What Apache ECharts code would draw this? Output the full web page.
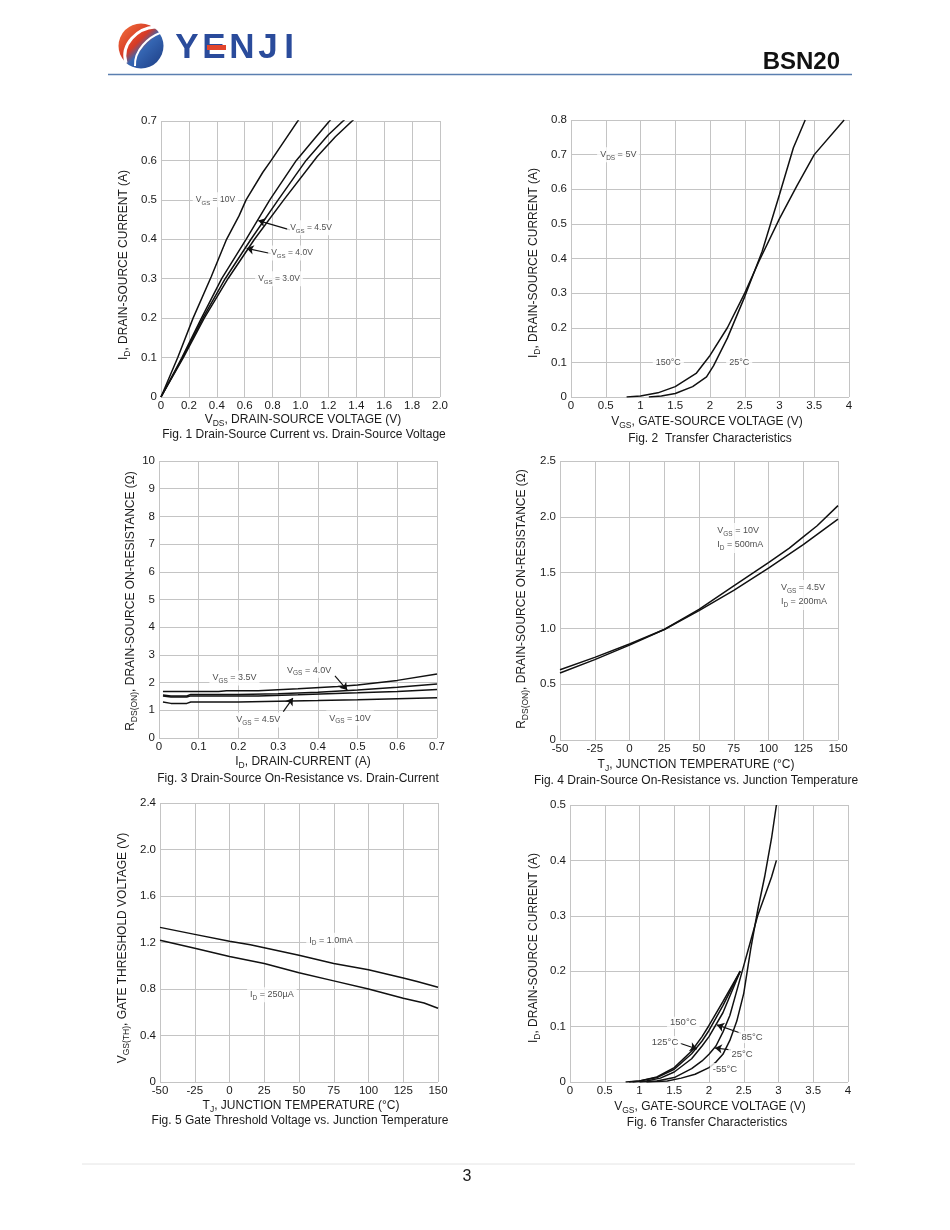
<!DOCTYPE html>
<html>
<head>
<meta charset="utf-8">
<script src="https://cdn.jsdelivr.net/npm/echarts@6/dist/echarts.min.js"></script>
<style>
  html, body { margin: 0; padding: 0; background: #fff; }
  #chart { width: 950px; height: 1230px; }
</style>
</head>
<body>
<div id="chart"></div>
<script>
// ---------------- DATA ----------------
// Fig. 1  I_D vs V_DS   [V_DS (V), I_D (A)]
const fig1_vgs10  = [[0,0],[0.12,0.1],[0.23,0.2],[0.36,0.305],[0.47,0.4],[0.56,0.46],[0.61,0.5],[0.73,0.57],[0.79,0.6],[0.99,0.705]];
const fig1_vgs4_5 = [[0,0],[0.15,0.1],[0.29,0.2],[0.435,0.3],[0.61,0.4],[0.78,0.5],[0.97,0.6],[1.1,0.655],[1.22,0.705]];
const fig1_vgs4_0 = [[0,0],[0.155,0.1],[0.3,0.2],[0.46,0.3],[0.645,0.4],[0.84,0.5],[1.04,0.6],[1.2,0.665],[1.32,0.705]];
const fig1_vgs3_0 = [[0,0],[0.16,0.1],[0.31,0.2],[0.48,0.3],[0.67,0.4],[0.88,0.5],[1.12,0.61],[1.25,0.66],[1.385,0.705]];
const fig1XTicks = ['0','0.2','0.4','0.6','0.8','1.0','1.2','1.4','1.6','1.8','2.0'];
const fig1YTicks = ['0','0.1','0.2','0.3','0.4','0.5','0.6','0.7'];
const fig1Notes  = [[0.39,0.5,'V{s|GS} = 10V'],[1.075,0.429,'V{s|GS} = 4.5V'],[0.939,0.365,'V{s|GS} = 4.0V'],[0.846,0.3,'V{s|GS} = 3.0V']];
const fig1Arrows = [[[0.925,0.424],[0.698,0.4475]],[[0.786,0.364],[0.614,0.377]]];

// Fig. 2  Transfer characteristics  [V_GS (V), I_D (A)]
const fig2_t25  = [[1.12,0],[1.3,0.003],[1.5,0.01],[1.75,0.03],[1.95,0.058],[2.05,0.09],[2.25,0.17],[2.5,0.29],[2.75,0.42],[3.0,0.585],[3.2,0.72],[3.37,0.8]];
const fig2_t150 = [[0.8,0],[1.0,0.003],[1.25,0.012],[1.5,0.03],[1.8,0.068],[2.0,0.12],[2.25,0.2],[2.5,0.3],[2.7,0.39],[3.0,0.515],[3.25,0.61],[3.5,0.70],[3.93,0.80]];
const fig2XTicks = ['0','0.5','1','1.5','2','2.5','3','3.5','4'];
const fig2YTicks = ['0','0.1','0.2','0.3','0.4','0.5','0.6','0.7','0.8'];
const fig2Notes  = [[0.68,0.70,'V{s|DS} = 5V'],[1.4,0.1,'150°C'],[2.42,0.1,'25°C']];

// Fig. 3  R_DS(on) vs I_D  [I_D (A), R (Ω)]
const fig3_vgs3_5 = [[0.01,1.68],[0.15,1.68],[0.17,1.71],[0.25,1.71],[0.35,1.78],[0.45,1.86],[0.5,1.91],[0.6,2.08],[0.7,2.31]];
const fig3_vgs4_0 = [[0.01,1.55],[0.03,1.52],[0.07,1.52],[0.08,1.57],[0.2,1.57],[0.3,1.6],[0.4,1.65],[0.5,1.73],[0.6,1.83],[0.7,1.95]];
const fig3_vgs4_5 = [[0.01,1.52],[0.03,1.48],[0.07,1.48],[0.08,1.52],[0.25,1.52],[0.35,1.56],[0.5,1.63],[0.6,1.68],[0.7,1.75]];
const fig3_vgs10  = [[0.01,1.3],[0.03,1.25],[0.07,1.25],[0.08,1.3],[0.2,1.3],[0.4,1.35],[0.5,1.38],[0.6,1.42],[0.7,1.45]];
const fig3XTicks = ['0','0.1','0.2','0.3','0.4','0.5','0.6','0.7'];
const fig3YTicks = ['0','1','2','3','4','5','6','7','8','9','10'];
const fig3Notes  = [[0.19,2.17,'V{s|GS} = 3.5V'],[0.378,2.45,'V{s|GS} = 4.0V'],[0.25,0.65,'V{s|GS} = 4.5V'],[0.481,0.72,'V{s|GS} = 10V']];
const fig3Arrows = [[[0.443,2.24],[0.474,1.73]],[[0.313,0.95],[0.337,1.44]]];

// Fig. 4  R_DS(on) vs T_J  [T_J (°C), R (Ω)]
const fig4_vgs10  = [[-50,0.63],[-25,0.74],[0,0.86],[25,0.99],[50,1.17],[75,1.38],[100,1.59],[115,1.72],[125,1.82],[135,1.92],[150,2.10]];
const fig4_vgs4_5 = [[-50,0.60],[-25,0.72],[0,0.85],[25,0.99],[50,1.16],[75,1.34],[100,1.54],[125,1.75],[150,1.98]];
const fig4XTicks = ['-50','-25','0','25','50','75','100','125','150'];
const fig4YTicks = ['0','0.5','1.0','1.5','2.0','2.5'];
const fig4Notes  = [[61,1.81,'V{s|GS} = 10V\nI{s|D} = 500mA'],[106.8,1.30,'V{s|GS} = 4.5V\nI{s|D} = 200mA']];

// Fig. 5  V_GS(th) vs T_J  [T_J (°C), V (V)]
const fig5_id1mA   = [[-50,1.33],[-25,1.27],[0,1.21],[15,1.18],[25,1.155],[50,1.09],[75,1.02],[100,0.965],[125,0.895],[130,0.88],[135,0.865],[150,0.815]];
const fig5_id250uA = [[-50,1.22],[-25,1.15],[0,1.08],[25,1.02],[50,0.94],[75,0.87],[100,0.80],[125,0.72],[140,0.68],[150,0.635]];
const fig5XTicks = ['-50','-25','0','25','50','75','100','125','150'];
const fig5YTicks = ['0','0.4','0.8','1.2','1.6','2.0','2.4'];
const fig5Notes  = [[73,1.22,'I{s|D} = 1.0mA'],[30.5,0.75,'I{s|D} = 250µA']];

// Fig. 6  Transfer characteristics vs temperature  [V_GS (V), I_D (A)]
const fig6_t150 = [[0.8,0],[1.0,0.002],[1.25,0.009],[1.5,0.026],[1.75,0.056],[1.9,0.082],[2.0,0.102],[2.2,0.145],[2.45,0.2]];
const fig6_t125 = [[0.85,0],[1.0,0.002],[1.25,0.008],[1.5,0.023],[1.75,0.051],[1.9,0.074],[2.0,0.093],[2.2,0.138],[2.45,0.2]];
const fig6_t85  = [[0.9,0],[1.1,0.002],[1.3,0.007],[1.5,0.018],[1.75,0.042],[1.9,0.065],[2.0,0.082],[2.2,0.125],[2.45,0.2]];
const fig6_t25  = [[1.0,0],[1.25,0.002],[1.5,0.008],[1.75,0.024],[1.9,0.038],[2.0,0.05],[2.1,0.065],[2.2,0.09],[2.3,0.12],[2.4,0.165],[2.5,0.21],[2.6,0.255],[2.7,0.3],[2.8,0.335],[2.9,0.37],[2.97,0.4]];
const fig6_tm55 = [[1.1,0],[1.4,0.002],[1.6,0.007],[1.8,0.014],[2.0,0.026],[2.1,0.036],[2.2,0.05],[2.3,0.075],[2.4,0.11],[2.5,0.16],[2.6,0.24],[2.7,0.31],[2.8,0.37],[2.9,0.44],[2.97,0.5]];
const fig6XTicks = ['0','0.5','1','1.5','2','2.5','3','3.5','4'];
const fig6YTicks = ['0','0.1','0.2','0.3','0.4','0.5'];
const fig6Notes  = [[1.63,0.107,'150°C'],[1.367,0.072,'125°C'],[2.62,0.081,'85°C'],[2.475,0.0505,'25°C'],[2.23,0.0235,'-55°C']];
const fig6Arrows = [[[1.583,0.070],[1.827,0.0596]],[[2.46,0.088],[2.115,0.103]],[[2.317,0.058],[2.086,0.0614]]];

// ---------------- BUILD ----------------
const FONT = 'Liberation Sans, Arial, Helvetica, sans-serif';
const TXT = '#1a1a1a';
const GRIDC = '#c4c4c4';

const grids = [
  {left:161, top:121, width:279, height:276},
  {left:571, top:120, width:278, height:277},
  {left:159, top:461, width:278, height:277},
  {left:560, top:461, width:278, height:279},
  {left:160, top:803, width:278, height:279},
  {left:570, top:805, width:278, height:277}
];

function axis(gi, min, max, interval, ticks, isX) {
  return {
    type:'value', gridIndex:gi, min, max, interval,
    axisLine:{show:false}, axisTick:{show:false},
    splitLine:{show:true, lineStyle:{color:GRIDC, width:1}},
    axisLabel:{
      fontSize:11.5, color:TXT, fontFamily:FONT, margin: isX ? 3 : 4,
      showMinLabel:true, showMaxLabel:true, hideOverlap:false,
      formatter: v => ticks[Math.round((v - min) / interval)]
    }
  };
}

const xAxes = [
  axis(0, 0, 2, 0.2, fig1XTicks, true),
  axis(1, 0, 4, 0.5, fig2XTicks, true),
  axis(2, 0, 0.7, 0.1, fig3XTicks, true),
  axis(3, -50, 150, 25, fig4XTicks, true),
  axis(4, -50, 150, 25, fig5XTicks, true),
  axis(5, 0, 4, 0.5, fig6XTicks, true)
];
const yAxes = [
  axis(0, 0, 0.7, 0.1, fig1YTicks, false),
  axis(1, 0, 0.8, 0.1, fig2YTicks, false),
  axis(2, 0, 10, 1, fig3YTicks, false),
  axis(3, 0, 2.5, 0.5, fig4YTicks, false),
  axis(4, 0, 2.4, 0.4, fig5YTicks, false),
  axis(5, 0, 0.5, 0.1, fig6YTicks, false)
];

function curve(data, gi) {
  return {type:'line', xAxisIndex:gi, yAxisIndex:gi, data, symbol:'none', showSymbol:false,
    lineStyle:{color:'#111', width:1.5}, clip:true, silent:true, z:3, animation:false};
}

function notes(list, arrows, gi, fs, leftAlign) {
  const s = {
    type:'scatter', xAxisIndex:gi, yAxisIndex:gi, symbolSize:0, silent:true, z:5, animation:false,
    data: list.map(n => ({value:[n[0], n[1]], label:{formatter:n[2]}})),
    label:{
      show:true, position: leftAlign ? 'right' : 'inside', distance:0,
      align: leftAlign ? 'left' : 'center',
      fontSize:fs, color:TXT, fontFamily:FONT, backgroundColor:'#fff', padding:[1,3],
      lineHeight: leftAlign ? 14 : undefined,
      rich:{ s:{fontSize:fs*0.72, padding:[7,0,0,0], fontFamily:FONT, color:TXT} }
    }
  };
  if (arrows && arrows.length) {
    s.markLine = {
      silent:true, animation:false, symbol:['none','arrow'], symbolSize:7,
      lineStyle:{color:'#111', width:1.2, type:'solid'}, label:{show:false},
      data: arrows.map(a => [{coord:a[0]}, {coord:a[1]}])
    };
  }
  return s;
}

const series = [
  curve(fig1_vgs10,0), curve(fig1_vgs4_5,0), curve(fig1_vgs4_0,0), curve(fig1_vgs3_0,0),
  notes(fig1Notes, fig1Arrows, 0, 8.5),
  curve(fig2_t25,1), curve(fig2_t150,1),
  notes(fig2Notes, null, 1, 9),
  curve(fig3_vgs3_5,2), curve(fig3_vgs4_0,2), curve(fig3_vgs4_5,2), curve(fig3_vgs10,2),
  notes(fig3Notes, fig3Arrows, 2, 9),
  curve(fig4_vgs10,3), curve(fig4_vgs4_5,3),
  notes(fig4Notes, null, 3, 9, true),
  curve(fig5_id1mA,4), curve(fig5_id250uA,4),
  notes(fig5Notes, null, 4, 9),
  curve(fig6_t150,5), curve(fig6_t125,5), curve(fig6_t85,5), curve(fig6_t25,5), curve(fig6_tm55,5),
  notes(fig6Notes, fig6Arrows, 5, 9.5)
];

// ---- page texts (titles, captions, header) ----
const subRich = { s:{fontSize:8.5, padding:[8,0,0,0], fontFamily:FONT, fill:TXT, color:TXT} };
function txt(x, y, text, opt) {
  opt = opt || {};
  return {
    type:'text', x, y, rotation: opt.rot || 0, silent:true, z:10,
    style:{
      text, fontSize: opt.fs || 12, fontFamily: FONT, fontWeight: opt.fw || 'normal',
      fill: opt.fill || TXT,
      align: opt.align || 'center', textAlign: opt.align || 'center',
      verticalAlign: 'middle', textVerticalAlign: 'middle',
      rich: subRich
    }
  };
}
const ROT = Math.PI / 2;
const LOGO = '#2a4b9b';
const graphics = [
  // header logo
  {type:'circle', shape:{cx:141, cy:46, r:22.5}, silent:true,
    style:{fill: new echarts.graphic.LinearGradient(0,0,1,1,[
      {offset:0, color:'#f4753e'},{offset:0.42, color:'#d63a26'},
      {offset:0.56, color:'#3566b3'},{offset:1, color:'#1c3b82'}])}},
  {type:'bezierCurve', silent:true, shape:{x1:126, y1:63, x2:155, y2:27, cpx1:120, cpy1:44, cpx2:138, cpy2:28},
    style:{stroke:'#fff', lineWidth:3, fill:null}},
  {type:'bezierCurve', silent:true, shape:{x1:135, y1:66, x2:160, y2:33, cpx1:134, cpy1:50, cpx2:149, cpy2:37},
    style:{stroke:'#fff', lineWidth:2, fill:null}},
  txt(187, 48, 'Y', {fs:35, fw:'bold', fill:LOGO}),
  txt(214, 48, 'E', {fs:35, fw:'bold', fill:LOGO}),
  {type:'rect', silent:true, z:11, shape:{x:207, y:45, width:19, height:5}, style:{fill:'#e2452c'}},
  txt(242, 48, 'N', {fs:35, fw:'bold', fill:LOGO}),
  txt(268, 48, 'J', {fs:35, fw:'bold', fill:LOGO}),
  txt(289, 48, 'I', {fs:35, fw:'bold', fill:LOGO}),
  txt(840, 62, 'BSN20', {fs:24, fw:'bold', fill:'#111', align:'right'}),
  {type:'line', silent:true, shape:{x1:108, y1:74.5, x2:852, y2:74.5}, style:{stroke:'#5b7fb0', lineWidth:1.5}},
  // footer
  {type:'line', silent:true, shape:{x1:82, y1:1164, x2:855, y2:1164}, style:{stroke:'#e4e4e4', lineWidth:1}},
  txt(467, 1177, '3', {fs:16}),
  // axis titles
  txt(303, 420, 'V{s|DS}, DRAIN-SOURCE VOLTAGE (V)'),
  txt(124, 265, 'I{s|D}, DRAIN-SOURCE CURRENT (A)', {rot:ROT}),
  txt(707, 422, 'V{s|GS}, GATE-SOURCE VOLTAGE (V)'),
  txt(534, 263, 'I{s|D}, DRAIN-SOURCE CURRENT (A)', {rot:ROT}),
  txt(303, 762, 'I{s|D}, DRAIN-CURRENT (A)'),
  txt(131, 601, 'R{s|DS(ON)}, DRAIN-SOURCE ON-RESISTANCE (Ω)', {rot:ROT}),
  txt(696, 765, 'T{s|J}, JUNCTION TEMPERATURE (°C)'),
  txt(522, 599, 'R{s|DS(ON)}, DRAIN-SOURCE ON-RESISTANCE (Ω)', {rot:ROT}),
  txt(301, 1106, 'T{s|J}, JUNCTION TEMPERATURE (°C)'),
  txt(123, 948, 'V{s|GS(TH)}, GATE THRESHOLD VOLTAGE (V)', {rot:ROT}),
  txt(710, 1107, 'V{s|GS}, GATE-SOURCE VOLTAGE (V)'),
  txt(534, 948, 'I{s|D}, DRAIN-SOURCE CURRENT (A)', {rot:ROT}),
  // captions
  txt(304, 435, 'Fig. 1 Drain-Source Current vs. Drain-Source Voltage'),
  txt(710, 439, 'Fig. 2  Transfer Characteristics'),
  txt(298, 779, 'Fig. 3 Drain-Source On-Resistance vs. Drain-Current'),
  txt(696, 781, 'Fig. 4 Drain-Source On-Resistance vs. Junction Temperature'),
  txt(300, 1121, 'Fig. 5 Gate Threshold Voltage vs. Junction Temperature'),
  txt(707, 1123, 'Fig. 6 Transfer Characteristics')
];

const chart = echarts.init(document.getElementById('chart'), null, {renderer:'canvas'});
chart.setOption({
  animation:false,
  backgroundColor:'#fff',
  textStyle:{fontFamily:FONT},
  grid: grids,
  xAxis: xAxes,
  yAxis: yAxes,
  series,
  graphic: graphics
});
</script>
</body>
</html>
